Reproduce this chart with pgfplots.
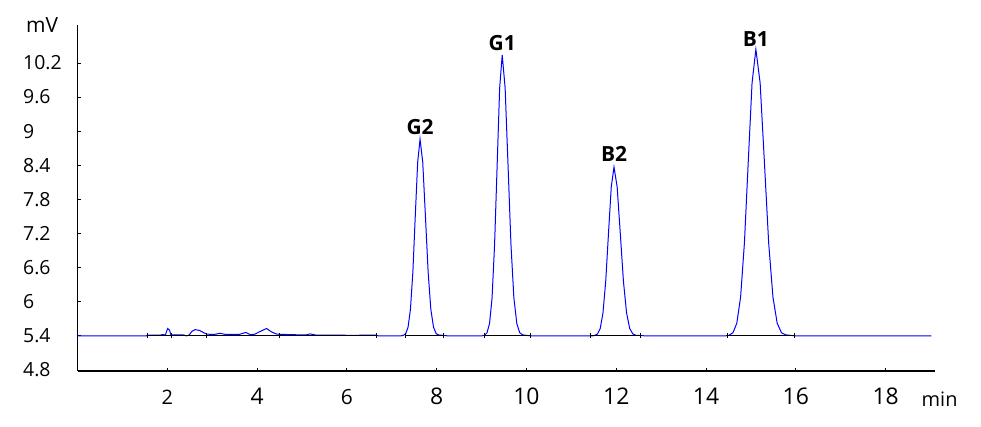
\documentclass[border=0pt]{standalone}
\usepackage{fontspec}
\setmainfont{Open Sans}
\usepackage{pgfplots}
\pgfplotsset{compat=1.18}

\definecolor{trace}{RGB}{0,0,255}

\begin{document}
\begin{tikzpicture}
\useasboundingbox (-77.5bp,-56bp) rectangle (903.5bp,371bp);
\begin{axis}[
    at={(0,0)}, anchor=south west,
    scale only axis,
    width=857.5bp, height=346bp,
    xmin=0, xmax=19.1,
    ymin=4.782, ymax=10.868,
    clip=false,
    axis x line*=bottom,
    axis y line*=left,
    axis line style={line width=1.6bp, black},
    tick align=inside,
    major tick length=3bp,
    tick style={black, line width=0.8bp},
    xtick={2,4,6,8,10,12,14,16,18},
    xticklabels={{\fontsize{20}{20}\selectfont 2},4,{\fontsize{21}{21}\selectfont 6},8,10,12,14,16,18},
    xticklabel style={font=\fontsize{23}{23}\selectfont, anchor=base, inner sep=0pt, yshift=-34bp},
    ytick={4.8,5.4,6,6.6,7.2,7.8,8.4,9,9.6,10.2},
    yticklabels={4.8,5.4,6,6.6,7.2,7.8,8.4,9,9.6,10.2},
    yticklabel style={font=\fontsize{19.5}{19.5}\selectfont, anchor=west, inner sep=0pt, xshift=-54.5bp},
]
% chromatogram trace
\addplot[trace, line width=1bp] coordinates {
(0,5.4)(1.54,5.4)
(1.55,5.415)(1.85,5.415)(1.90,5.422)(1.96,5.415)(1.98,5.47)(2.01,5.53)(2.05,5.50)(2.08,5.418)
(2.38,5.415)(2.42,5.400)(2.48,5.41)(2.55,5.48)(2.62,5.51)(2.72,5.495)(2.80,5.46)(2.88,5.43)
(3.05,5.425)(3.17,5.445)(3.30,5.425)(3.60,5.425)(3.75,5.46)(3.85,5.42)(3.95,5.43)(4.05,5.47)
(4.21,5.53)(4.32,5.47)(4.44,5.43)(4.80,5.42)(5.10,5.418)(5.18,5.435)(5.30,5.415)(5.80,5.415)
(6.00,5.41)(6.66,5.412)(6.70,5.400)
(7.200,5.400)(7.256,5.408)(7.309,5.438)(7.363,5.552)(7.416,5.868)(7.470,6.523)(7.523,7.498)(7.577,8.453)
(7.630,8.860)(7.690,8.453)(7.750,7.498)(7.810,6.523)(7.870,5.868)(7.930,5.552)(7.990,5.438)(8.050,5.415)
(8.150,5.408)(8.250,5.400)
(9.008,5.400)(9.065,5.411)(9.121,5.455)(9.178,5.617)(9.234,6.068)(9.290,7.004)(9.347,8.396)(9.403,9.760)
(9.460,10.340)(9.525,9.760)(9.590,8.396)(9.655,7.004)(9.720,6.068)(9.785,5.617)(9.850,5.455)(9.915,5.418)
(10.000,5.408)(10.100,5.400)
(11.458,5.400)(11.520,5.407)(11.581,5.433)(11.643,5.530)(11.704,5.802)(11.766,6.364)(11.827,7.201)(11.889,8.021)
(11.950,8.370)(12.020,8.021)(12.090,7.201)(12.160,6.364)(12.230,5.802)(12.300,5.530)(12.370,5.433)(12.440,5.410)
(12.550,5.405)(12.650,5.400)
(14.430,5.400)(14.515,5.411)(14.600,5.456)(14.685,5.621)(14.770,6.082)(14.855,7.036)(14.940,8.457)(15.025,9.848)
(15.110,10.440)(15.205,9.848)(15.300,8.457)(15.395,7.036)(15.490,6.082)(15.585,5.621)(15.680,5.456)(15.775,5.418)
(15.900,5.407)(16.000,5.400)
(19.02,5.400)
};
% integration baselines
\addplot[black, line width=1bp, mark=|, mark size=2.5bp] coordinates {(1.55,5.4)(2.10,5.4)(2.88,5.4)(4.51,5.4)(6.66,5.4)};
\addplot[black, line width=1bp, mark=|, mark size=2.5bp] coordinates {(7.30,5.4)(8.16,5.4)};
\addplot[black, line width=1bp, mark=|, mark size=2.5bp] coordinates {(9.07,5.4)(10.08,5.4)};
\addplot[black, line width=1bp, mark=|, mark size=2.5bp] coordinates {(11.43,5.4)(12.54,5.4)};
\addplot[black, line width=1bp, mark=|, mark size=2.5bp] coordinates {(14.47,5.4)(15.98,5.4)};
% peak names
\node[anchor=south, inner sep=0pt, yshift=4bp, font=\fontsize{21}{21}\selectfont\bfseries] at (axis cs:7.63,8.86) {G2};
\node[anchor=south, inner sep=0pt, yshift=4bp, font=\fontsize{21}{21}\selectfont\bfseries] at (axis cs:9.46,10.34) {G1};
\node[anchor=south, inner sep=0pt, yshift=5bp, font=\fontsize{21}{21}\selectfont\bfseries] at (axis cs:11.95,8.37) {B2};
\node[anchor=south, inner sep=0pt, yshift=3bp, font=\fontsize{21}{21}\selectfont\bfseries] at (axis cs:15.11,10.44) {B1};
\end{axis}
\node[anchor=base west, inner sep=0pt, font=\fontsize{21}{21}\selectfont] at (-51.5bp,338bp) {mV};
\node[anchor=base west, inner sep=0pt, font=\fontsize{20}{20}\selectfont] at (844bp,-35bp) {min};
\end{tikzpicture}
\end{document}
